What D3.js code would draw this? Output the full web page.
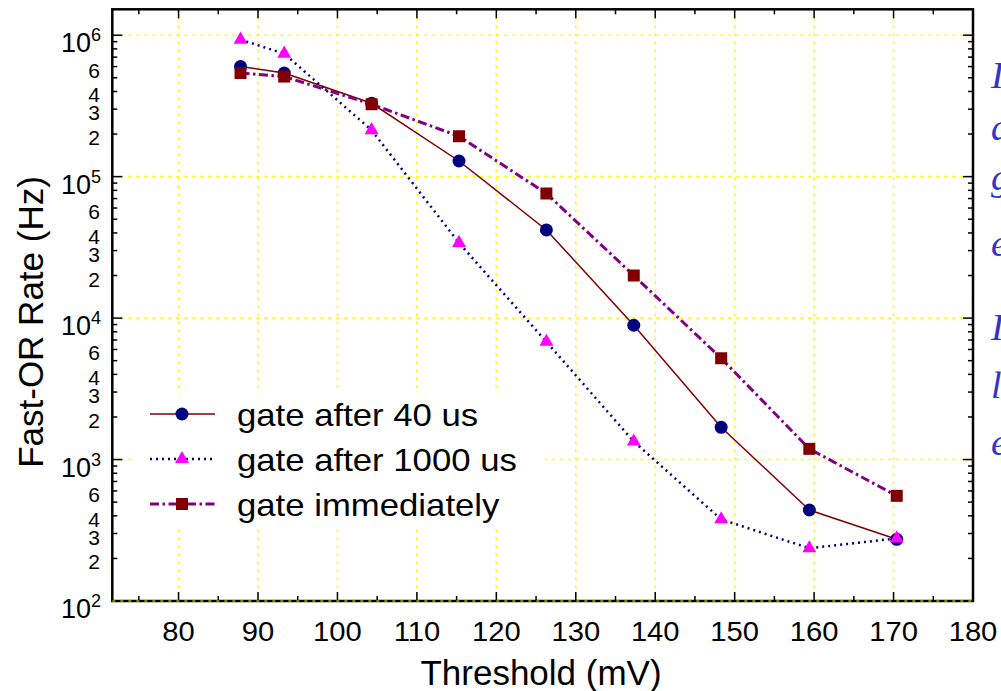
<!DOCTYPE html>
<html><head><meta charset="utf-8">
<script src="https://cdn.jsdelivr.net/npm/d3@7"></script>
<style>body{margin:0;background:#fff;overflow:hidden}svg{display:block;font-family:"Liberation Sans",Arial,sans-serif}</style>
</head><body><svg id="c" width="1001" height="691"></svg>
<script>
const thresholds = [87.8, 93.3, 104.3, 115.3, 126.3, 137.3, 148.3, 159.4, 170.4];
const gate40 = [6.0e5, 5.4e5, 3.3e5, 1.29e5, 4.2e4, 8.9e3, 1.69e3, 440, 273];
const gate1000 = [9.3e5, 7.4e5, 2.13e5, 3.4e4, 6.8e3, 1.34e3, 378, 236, 277];
const gateImm = [5.4e5, 5.1e5, 3.25e5, 1.93e5, 7.6e4, 2.0e4, 5.2e3, 1.19e3, 554];
const seriesNames = ["gate after 40 us", "gate after 1000 us", "gate immediately"];
const xTicks = [80, 90, 100, 110, 120, 130, 140, 150, 160, 170, 180];
const yMajor = [1e2, 1e3, 1e4, 1e5, 1e6];
const yMinorLabels = [2, 3, 4, 6];
const xLabel = "Threshold (mV)";
const yLabel = "Fast-OR Rate (Hz)";
const sideLetters = ["I", "a", "g", "e", "I", "l", "e"];

const svg = d3.select("#c");
const L = 112.3, R = 973, T = 9.3, B = 601;
const x = d3.scaleLinear().domain([71.66, 180]).range([L, R]);
const y = d3.scaleLog().domain([100, Math.pow(10, 6.183)]).range([B, T]);

function txt(px, py, s, size, anchor, sx) {
  return svg.append("text").attr("transform", `translate(${px},${py}) scale(${sx || 1},1)`)
    .attr("text-anchor", anchor || "start").attr("font-size", size).attr("fill", "#000").text(s);
}

// grid
const grid = svg.append("g").attr("stroke", "#ffff00").attr("stroke-width", 1.6).attr("stroke-dasharray", "3,5");
xTicks.filter(t => t < 180).forEach(t => grid.append("line").attr("x1", x(t)).attr("x2", x(t)).attr("y1", T).attr("y2", B));
yMajor.filter(t => t > 100).forEach(t => grid.append("line").attr("x1", L).attr("x2", R).attr("y1", y(t)).attr("y2", y(t)));

// legend background (covers grid)
svg.append("rect").attr("x", 135).attr("y", 388).attr("width", 410).attr("height", 137).attr("fill", "#fff");

const yMinor = [];
for (let d = 100; d < 1e6 * 1.6; d *= 10) for (let m = 2; m <= 9; m++) { const v = d * m; if (v < y.domain()[1]) yMinor.push(v); }
const xMinor = d3.range(75, 180, 10);

const tk = svg.append("g").attr("stroke", "#000").attr("stroke-width", 1.5);
xTicks.forEach(t => {
  tk.append("line").attr("x1", x(t)).attr("x2", x(t)).attr("y1", B).attr("y2", B - 9);
  tk.append("line").attr("x1", x(t)).attr("x2", x(t)).attr("y1", T).attr("y2", T + 9);
});
xMinor.forEach(t => {
  tk.append("line").attr("x1", x(t)).attr("x2", x(t)).attr("y1", B).attr("y2", B - 5);
  tk.append("line").attr("x1", x(t)).attr("x2", x(t)).attr("y1", T).attr("y2", T + 5);
});
yMajor.forEach(t => {
  tk.append("line").attr("x1", L).attr("x2", L + 10).attr("y1", y(t)).attr("y2", y(t));
  tk.append("line").attr("x1", R).attr("x2", R - 10).attr("y1", y(t)).attr("y2", y(t));
});
yMinor.forEach(t => {
  tk.append("line").attr("x1", L).attr("x2", L + 5).attr("y1", y(t)).attr("y2", y(t));
  tk.append("line").attr("x1", R).attr("x2", R - 5).attr("y1", y(t)).attr("y2", y(t));
});

// frame
svg.append("rect").attr("x", L).attr("y", T).attr("width", R - L).attr("height", B - T)
  .attr("fill", "none").attr("stroke", "#000").attr("stroke-width", 2.5);
svg.append("line").attr("x1", L).attr("x2", R).attr("y1", B).attr("y2", B)
  .attr("stroke", "#ffff00").attr("stroke-width", 1.2).attr("stroke-dasharray", "3,5");

// x tick labels
xTicks.forEach(t => txt(x(t), 641, t, 27, "middle", 1.08));
// y major labels
yMajor.forEach(t => {
  const e = Math.round(Math.log10(t));
  const tx = svg.append("text").attr("x", 101).attr("y", y(t) + 17).attr("text-anchor", "end").attr("font-size", 27).attr("fill", "#000");
  tx.append("tspan").text("10");
  tx.append("tspan").attr("dy", -11).attr("font-size", 18).text(e);
});
// y minor labels
yMajor.slice(0, 4).forEach(d => yMinorLabels.forEach(m => {
  txt(100, y(d * m) + 11, m, 21, "end");
}));

// axis titles
txt(541, 685, xLabel, 35, "middle");
svg.append("text").attr("transform", "translate(43,322) rotate(-90)").attr("text-anchor", "middle")
  .attr("font-size", 35).attr("fill", "#000").text(yLabel);

// series
const series = [
  { name: seriesNames[0], vals: gate40, line: "#800000", w: 1.5, dash: null, sym: d3.symbolCircle, size: 133, fill: "#000080" },
  { name: seriesNames[1], vals: gate1000, line: "#000080", w: 2.5, dash: "2,4", sym: d3.symbolTriangle, size: 85, fill: "#ff00ff" },
  { name: seriesNames[2], vals: gateImm, line: "#800080", w: 3, dash: "9,3.5,2.5,3.5", sym: d3.symbolSquare, size: 144, fill: "#800000" }
];
const lineGen = d3.line().x(d => x(d[0])).y(d => y(d[1]));
series.forEach(s => {
  const pts = thresholds.map((t, i) => [t, s.vals[i]]);
  svg.append("path").attr("d", lineGen(pts)).attr("fill", "none").attr("stroke", s.line)
    .attr("stroke-width", s.w).attr("stroke-dasharray", s.dash);
});
series.forEach(s => {
  thresholds.forEach((t, i) => {
    svg.append("path").attr("d", d3.symbol(s.sym, s.size)()).attr("transform", `translate(${x(t)},${y(s.vals[i])})`).attr("fill", s.fill);
  });
});

// legend
const legY = [414, 459, 504];
series.forEach((s, i) => {
  svg.append("line").attr("x1", 150).attr("x2", 215).attr("y1", legY[i]).attr("y2", legY[i])
    .attr("stroke", s.line).attr("stroke-width", s.w).attr("stroke-dasharray", s.dash);
  svg.append("path").attr("d", d3.symbol(s.sym, s.size)()).attr("transform", `translate(182,${legY[i]})`).attr("fill", s.fill);
  txt(237, legY[i] + 12, s.name, 31, "start", 1.12);
});

// clipped side text (from the surrounding slide)
const sideY = [88, 140, 190, 256, 340, 398, 455];
sideLetters.forEach((c, i) => svg.append("text").attr("x", 991).attr("y", sideY[i])
  .attr("font-family", "Liberation Serif, serif").attr("font-style", "italic").attr("font-size", 38)
  .attr("fill", "#3333cc").text(c));
</script></body></html>
